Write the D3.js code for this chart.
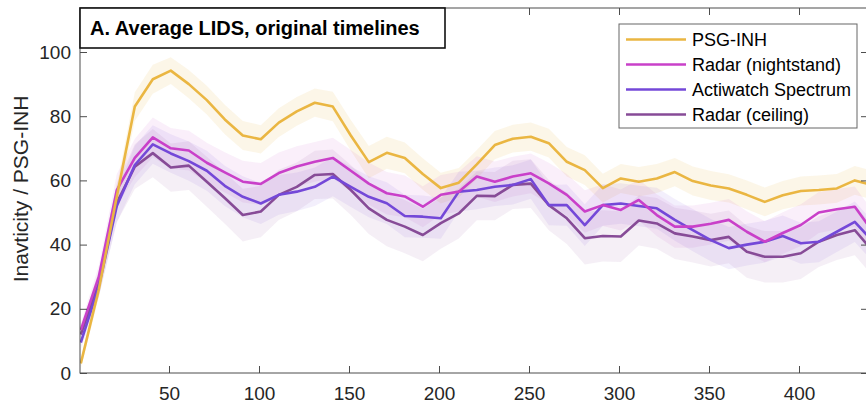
<!DOCTYPE html>
<html>
<head>
<meta charset="utf-8">
<script src="https://cdn.jsdelivr.net/npm/d3@7"></script>
<style>
  body { margin: 0; background: #fff; }
  text { font-family: "Liberation Sans", Arial, sans-serif; fill: #262626; }
</style>
</head>
<body>
<div id="chart"></div>
<script>
// x positions of the averaged samples
const xs = d3.range(45).map(i => 1 + i * 10);

const seriesNames = ["PSG-INH", "Radar (nightstand)", "Actiwatch Spectrum", "Radar (ceiling)"];
const seriesColors = ["#eab642", "#c940c9", "#7448d8", "#874b97"];

const psgInh = [3, 26, 55, 83, 91.5, 94.2, 90, 85, 79, 74, 72.8, 78, 81.5, 84.2, 83, 74, 65.7, 68.6, 67, 62,
  57.6, 59.3, 65, 71, 73, 73.6, 71.6, 65.8, 63.2, 57.6, 60.6, 59.6, 60.6, 62.6, 59.8, 58.4, 57.5, 55.5, 53.3, 55.4,
  56.7, 57, 57.5, 60, 58.5];
const radarNight = [13.4, 30, 57, 67, 73.4, 70, 69.3, 65.5, 62.5, 59.6, 58.9, 62.3, 64.3, 65.8, 67, 63, 59, 56, 55, 51.8,
  55.5, 56.5, 61.2, 59.6, 61.2, 62.2, 59.1, 55.5, 50.3, 52.3, 50.8, 53.9, 49.2, 45.6, 45.6, 46.5, 47.7, 44, 40.9, 43.6,
  46.1, 50, 51, 51.8, 44];
const actiwatch = [9.5, 27, 52, 64.8, 71.2, 68.4, 66, 63, 58.3, 54.9, 52.8, 55.5, 56.5, 58, 61.2, 58, 54.9, 52.9, 48.9, 48.7,
  48.2, 56.5, 57, 58, 58.6, 60.4, 52.3, 52.3, 46.1, 52.3, 52.8, 52, 51.3, 47.7, 44.5, 41.4, 38.9, 40, 40.9, 42.7,
  40.4, 40.9, 44, 47.1, 41];
const radarCeil = [12, 28, 53, 64.3, 68.5, 64, 64.6, 59.6, 54.5, 49.2, 50.3, 55.5, 58, 61.7, 62, 57, 51.3, 47.7, 45.6, 43,
  46.7, 49.7, 55.2, 55.1, 58.6, 59, 52.3, 48.2, 42, 42.7, 42.5, 47.5, 46.6, 43.5, 42.5, 41.4, 42.4, 37.8, 36.2, 36.2,
  37.3, 40.9, 43, 44.5, 38];

// half-widths of the shaded bands
const psgErr = [1.5, 2.5, 3.5, 4.5, 4.5, 4.2, 4.4, 4.5, 4.6, 4.5, 4.4, 4.5, 4.5, 4.4, 4.6, 4.8, 5, 5, 4.8, 4.9,
  4.8, 4.6, 4.5, 4.4, 4.3, 4.4, 4.5, 4.6, 4.6, 4.5, 4.5, 4.6, 4.5, 4.4, 4.5, 4.5, 4.4, 4.5, 4.5, 4.4,
  4.5, 4.5, 4.5, 4.5, 4.5];
const nightErr = [2, 3.5, 5, 6, 6.2, 6.3, 6.2, 6.2, 6.3, 6.5, 6.5, 6.4, 6.3, 6.2, 6.3, 6.5, 6.6, 6.6, 6.5, 6.4,
  6.2, 6.2, 6.3, 6.3, 6.2, 6.2, 6.4, 6.5, 6.6, 6.5, 6.4, 6.4, 6.5, 6.6, 6.6, 6.5, 6.5, 6.4, 6.4, 6.5,
  6.5, 6.4, 6.3, 6.3, 6.3];
const actiErr = [2, 3.5, 5, 6, 6, 6, 6.1, 6.2, 6.3, 6.4, 6.4, 6.2, 6, 6, 6.1, 6.3, 6.4, 6.5, 6.6, 6.6,
  6.4, 6.2, 6, 6, 6.1, 6.1, 6.3, 6.4, 6.5, 6.4, 6.3, 6.3, 6.4, 6.5, 6.6, 6.6, 6.6, 6.5, 6.5, 6.4,
  6.4, 6.4, 6.3, 6.3, 6.3];
const ceilErr = [2, 4, 6, 7, 7.5, 7.5, 7.6, 7.8, 8, 8.2, 8, 7.8, 7.6, 7.5, 7.6, 7.8, 8, 8.2, 8.3, 8.2,
  8, 7.8, 7.6, 7.5, 7.5, 7.6, 7.8, 8, 8.2, 8, 7.9, 7.8, 7.9, 8, 8.1, 8.2, 8.2, 8.1, 8, 8,
  8, 7.9, 7.8, 7.8, 7.8];

const seriesValues = [psgInh, radarNight, actiwatch, radarCeil];
const seriesErrs = [psgErr, nightErr, actiErr, ceilErr];

const xTicks = [50, 100, 150, 200, 250, 300, 350, 400];
const yTicks = [0, 20, 40, 60, 80, 100];

const width = 866, height = 407;
const plot = { left: 80, right: 868, top: 8, bottom: 373 };

const svg = d3.select("#chart").append("svg")
  .attr("width", width)
  .attr("height", height);

const x = d3.scaleLinear().domain([0, 400]).range([79, 799]);
const y = d3.scaleLinear().domain([0, 100]).range([373, 52]);

svg.append("clipPath").attr("id", "clip")
  .append("rect")
  .attr("x", plot.left).attr("y", plot.top)
  .attr("width", plot.right - plot.left).attr("height", plot.bottom - plot.top);

const g = svg.append("g").attr("clip-path", "url(#clip)");

// shaded bands, drawn first so all lines sit on top
const area = d3.area()
  .x(d => x(d.x))
  .y0(d => y(d.v - d.e))
  .y1(d => y(d.v + d.e));

const line = d3.line()
  .x(d => x(d.x))
  .y(d => y(d.v));

const rows = seriesValues.map((vals, s) =>
  xs.map((xv, i) => ({ x: xv, v: vals[i], e: seriesErrs[s][i] })));

rows.forEach((r, s) => {
  g.append("path")
    .attr("d", area(r))
    .attr("fill", seriesColors[s])
    .attr("fill-opacity", s === 0 ? 0.12 : 0.085)
    .attr("stroke", "none");
});

// draw lines in reverse so PSG-INH is on top
rows.slice().reverse().forEach((r, k) => {
  const s = rows.length - 1 - k;
  g.append("path")
    .attr("d", line(r))
    .attr("fill", "none")
    .attr("stroke", seriesColors[s])
    .attr("stroke-width", 2.6)
    .attr("stroke-linejoin", "round");
});

// axes (MATLAB-like box with inward ticks)
const axisColor = "#4d4d4d";
const tickLen = 7;

const bottomAxis = svg.append("g")
  .attr("transform", `translate(0,${plot.bottom})`)
  .call(d3.axisBottom(x).tickValues(xTicks).tickSizeInner(-tickLen).tickSizeOuter(0).tickPadding(14));
const topAxis = svg.append("g")
  .attr("transform", `translate(0,${plot.top})`)
  .call(d3.axisTop(x).tickValues(xTicks).tickSizeInner(-tickLen).tickSizeOuter(0).tickFormat(""));
const leftAxis = svg.append("g")
  .attr("transform", `translate(${plot.left},0)`)
  .call(d3.axisLeft(y).tickValues(yTicks).tickSizeInner(-tickLen).tickSizeOuter(0).tickPadding(9));
const rightAxis = svg.append("g")
  .attr("transform", `translate(${plot.right},0)`)
  .call(d3.axisRight(y).tickValues(yTicks).tickSizeInner(-tickLen).tickSizeOuter(0).tickFormat(""));

[bottomAxis, topAxis, leftAxis, rightAxis].forEach(a => {
  a.select(".domain").remove();
  a.selectAll(".tick line").attr("stroke", axisColor);
  a.selectAll(".tick text")
    .style("font-family", "'Liberation Sans', Arial, sans-serif")
    .style("font-size", "19px")
    .attr("fill", "#262626");
});

svg.append("rect")
  .attr("x", plot.left).attr("y", plot.top)
  .attr("width", plot.right - plot.left).attr("height", plot.bottom - plot.top)
  .attr("fill", "none")
  .attr("stroke", axisColor)
  .attr("stroke-width", 1);

// y label
svg.append("text")
  .attr("transform", "translate(28,189) rotate(-90)")
  .attr("text-anchor", "middle")
  .style("font-size", "21px")
  .text("Inavticity / PSG-INH");

// title box
svg.append("rect")
  .attr("x", 80).attr("y", 8)
  .attr("width", 365).attr("height", 40)
  .attr("fill", "#fff")
  .attr("stroke", "#111")
  .attr("stroke-width", 1.6);
svg.append("text")
  .attr("x", 90).attr("y", 35)
  .style("font-size", "20px")
  .style("font-weight", "bold")
  .style("fill", "#000")
  .text("A. Average LIDS, original timelines");

// legend
const legend = svg.append("g");
legend.append("rect")
  .attr("x", 619).attr("y", 24)
  .attr("width", 238).attr("height", 104)
  .attr("fill", "#fff")
  .attr("stroke", "#666")
  .attr("stroke-width", 1);

seriesNames.forEach((name, i) => {
  const ly = 39.5 + i * 25;
  legend.append("line")
    .attr("x1", 626).attr("x2", 686)
    .attr("y1", ly).attr("y2", ly)
    .attr("stroke", seriesColors[i])
    .attr("stroke-width", 2.6);
  legend.append("text")
    .attr("x", 692).attr("y", ly + 6.5)
    .style("font-size", "18px")
    .style("fill", "#000")
    .text(name);
});
</script>
</body>
</html>
